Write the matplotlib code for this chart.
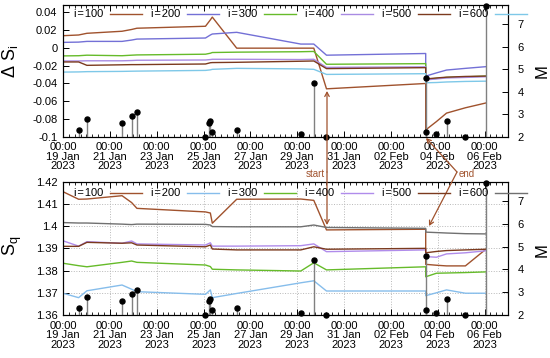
import numpy as np
import pandas as pd
import matplotlib
matplotlib.use("Agg")
import matplotlib.pyplot as plt
import matplotlib.dates as mdates
from matplotlib.lines import Line2D
from matplotlib.patches import FancyArrowPatch
from matplotlib.ticker import FixedLocator, FuncFormatter

plt.rcParams.update({
    "font.family": ["Liberation Sans", "DejaVu Sans"],
    "font.size": 8,
    "axes.unicode_minus": False,
    "axes.linewidth": 0.8,
    "mathtext.default": "regular",
})

# ---- data ----
node_times = pd.to_datetime([
    "2023-01-19 00:00", "2023-01-19 16:00", "2023-01-20 00:30", "2023-01-21 12:30",
    "2023-01-21 22:20", "2023-01-22 03:45", "2023-01-25 02:00", "2023-01-25 07:00",
    "2023-01-25 09:00", "2023-01-26 10:00", "2023-01-29 03:40", "2023-01-29 17:00",
    "2023-01-30 06:00", "2023-02-03 11:40", "2023-02-03 11:40", "2023-02-03 22:40",
    "2023-02-04 09:00", "2023-02-05 04:20", "2023-02-06 01:20",
])

labels = ["i=100", "i=200", "i=300", "i=400", "i=500", "i=600"]

dS_100 = [0.0135, 0.0143, 0.0162, 0.0185, 0.0205, 0.0219, 0.0241, 0.0313, 0.0344, -0.0005,
          -0.0005, -0.0005, -0.0462, -0.0402, -0.0924, -0.0830, -0.0735, -0.0675, -0.0621]
dS_200 = [0.0060, 0.0063, 0.0071, 0.0071, 0.0086, 0.0097, 0.0109, 0.0143, 0.0154, 0.0173,
          0.0041, 0.0041, -0.0084, -0.0065, -0.0319, -0.0283, -0.0251, -0.0232, -0.0213]
dS_300 = [-0.0092, -0.0090, -0.0084, -0.0090, -0.0084, -0.0081, -0.0073, -0.0062, -0.0054, -0.0050,
          -0.0045, -0.0042, -0.0186, -0.0179, -0.0357, -0.0345, -0.0334, -0.0328, -0.0319]
dS_400 = [-0.0149, -0.0149, -0.0147, -0.0147, -0.0144, -0.0141, -0.0138, -0.0133, -0.0130, -0.0130,
          -0.0133, -0.0130, -0.0221, -0.0215, -0.0362, -0.0351, -0.0340, -0.0334, -0.0326]
dS_500 = [-0.0160, -0.0160, -0.0198, -0.0192, -0.0190, -0.0190, -0.0183, -0.0169, -0.0167, -0.0164,
          -0.0152, -0.0149, -0.0235, -0.0224, -0.0351, -0.0340, -0.0331, -0.0323, -0.0319]
dS_600 = [-0.0274, -0.0272, -0.0269, -0.0266, -0.0264, -0.0263, -0.0255, -0.0249, -0.0243, -0.0232,
          -0.0238, -0.0243, -0.0300, -0.0292, -0.0394, -0.0391, -0.0385, -0.0379, -0.0376]

Sq_100 = [1.4155, 1.4121, 1.4122, 1.4137, 1.4106, 1.4080, 1.4064, 1.4059, 1.4013, 1.4121,
          1.4122, 1.4116, 1.3983, 1.3986, 1.3828, 1.3824, 1.3821, 1.3821, 1.3896]
Sq_200 = [1.3698, 1.3678, 1.3709, 1.3735, 1.3716, 1.3705, 1.3693, 1.3713, 1.3678, 1.3697,
          1.3745, 1.3754, 1.3708, 1.3708, 1.3687, 1.3700, 1.3713, 1.3698, 1.3698]
Sq_300 = [1.3833, 1.3822, 1.3817, 1.3837, 1.3843, 1.3837, 1.3825, 1.3818, 1.3806, 1.3803,
          1.3798, 1.3835, 1.3803, 1.3817, 1.3772, 1.3788, 1.3789, 1.3791, 1.3794]
Sq_400 = [1.3934, 1.3910, 1.3930, 1.3923, 1.3933, 1.3920, 1.3915, 1.3925, 1.3910, 1.3910,
          1.3912, 1.3920, 1.3885, 1.3893, 1.3863, 1.3860, 1.3875, 1.3880, 1.3889]
Sq_500 = [1.3909, 1.3909, 1.3927, 1.3923, 1.3925, 1.3915, 1.3907, 1.3915, 1.3897, 1.3893,
          1.3893, 1.3907, 1.3896, 1.3900, 1.3880, 1.3886, 1.3890, 1.3893, 1.3896]
Sq_600 = [1.4016, 1.4014, 1.4014, 1.4009, 1.4007, 1.4009, 1.4008, 1.4005, 1.3998, 1.3997,
          1.3997, 1.4005, 1.3994, 1.3990, 1.3973, 1.3971, 1.3969, 1.3966, 1.3965]

eq_times = pd.to_datetime([
    "2023-01-19 16:00", "2023-01-20 00:30", "2023-01-21 12:30", "2023-01-21 22:20",
    "2023-01-22 03:45", "2023-01-25 02:00", "2023-01-25 06:00", "2023-01-25 07:00",
    "2023-01-25 09:00", "2023-01-26 10:00", "2023-01-29 03:40", "2023-01-29 17:00",
    "2023-01-30 06:00", "2023-02-03 11:40", "2023-02-03 11:50", "2023-02-03 22:40",
    "2023-02-04 09:00", "2023-02-05 04:20", "2023-02-06 01:20",
])
eq_mag = [2.3, 2.8, 2.6, 2.9, 3.1, 2.0, 2.6, 2.7, 2.2, 2.3,
          2.1, 4.4, 2.0, 4.6, 2.2, 2.1, 2.7, 2.0, 7.8]

xtick_dates = pd.to_datetime([
    "2023-01-19", "2023-01-21", "2023-01-23", "2023-01-25", "2023-01-27",
    "2023-01-29", "2023-01-31", "2023-02-02", "2023-02-04", "2023-02-06",
])
x_range = pd.to_datetime(["2023-01-19", "2023-02-07"])

top_colors = ["#A0522D", "#7370D6", "#66BB2A", "#A98BE3", "#7B3A1E", "#7EC8E8"]
bot_colors = ["#A0522D", "#86BDEB", "#66BB2A", "#B08CEB", "#7B3A1E", "#707070"]
ARROW_C = "#A0522D"

W, H = 550, 358


def fpx(x, y):
    """pixel position -> figure fraction"""
    return x / W, 1 - y / H


def style_axes(ax, ax2):
    ax.set_xlim(x_range[0], x_range[1])
    ax.xaxis.set_major_locator(FixedLocator(mdates.date2num(xtick_dates)))
    ax.xaxis.set_major_formatter(mdates.DateFormatter("%H:%M\n%d %b\n%Y"))
    ax.xaxis.set_minor_locator(mdates.HourLocator(byhour=[0, 6, 12, 18]))
    ax.tick_params(which="both", direction="in", top=True)
    ax.tick_params(which="major", length=4, width=0.7)
    ax.tick_params(which="minor", length=2, width=0.6)
    ax.tick_params(axis="x", pad=4)
    ax.tick_params(axis="y", pad=4)
    ax2.set_ylim(2, 7.85)
    ax2.set_yticks([2, 3, 4, 5, 6, 7])
    ax2.tick_params(direction="in", length=4, width=0.7, pad=7)


def draw_stems(ax2):
    ax2.vlines(eq_times, 2, eq_mag, color="#808080", linewidth=1.0)
    ax2.plot(eq_times, eq_mag, "o", color="black", markersize=3.6, clip_on=False)


def draw_key(fig, y, colors):
    for k, (lab, c) in enumerate(zip(labels, colors)):
        xe = 103 + 77 * k
        fig.text(*fpx(xe, y), lab.replace("=", "\u200a=\u200a"), ha="right", va="center", fontsize=8)
        x0, y0 = fpx(xe + 7, y)
        x1, _ = fpx(xe + 39, y)
        fig.add_artist(Line2D([x0, x1], [y0, y0], color=c, linewidth=1.0,
                              transform=fig.transFigure))


fig = plt.figure(figsize=(5.5, 3.58), dpi=100)
ax_top = fig.add_axes([63 / W, 1 - 136.7 / H, 445 / W, 131.7 / H])
ax_bot = fig.add_axes([63 / W, 1 - 315 / H, 445 / W, 133.3 / H])

# ---- upper panel: Delta S_i ----
for vals, c in zip([dS_100, dS_200, dS_300, dS_400, dS_500, dS_600], top_colors):
    ax_top.plot(node_times, vals, color=c, linewidth=1.0)
ax_top.set_ylim(-0.1, 0.048)
ax_top.set_yticks([-0.1, -0.08, -0.06, -0.04, -0.02, 0, 0.02, 0.04])
ax_top.yaxis.set_major_formatter(FuncFormatter(lambda v, p: f"{v:g}" if abs(v) > 1e-9 else "0"))
ax_top.set_ylabel("Δ S$_{i}$", fontsize=13)
ax_top.yaxis.set_label_coords(-0.097, 0.57)
ax2_top = ax_top.twinx()
style_axes(ax_top, ax2_top)
draw_stems(ax2_top)
ax2_top.set_ylabel("M", fontsize=12, rotation=90)
ax2_top.yaxis.set_label_coords(1.059, 0.5)

# ---- lower panel: S_q ----
for vals, c in zip([Sq_100, Sq_200, Sq_300, Sq_400, Sq_500, Sq_600], bot_colors):
    ax_bot.plot(node_times, vals, color=c, linewidth=1.0)
ax_bot.set_ylim(1.36, 1.42)
ax_bot.set_yticks([1.36, 1.37, 1.38, 1.39, 1.40, 1.41, 1.42])
ax_bot.yaxis.set_major_formatter(FuncFormatter(lambda v, p: f"{v:g}"))
ax_bot.grid(True, which="major", color="#b8b8b8", linestyle=":", linewidth=0.7)
ax_bot.set_ylabel("S$_{q}$", fontsize=13)
ax_bot.yaxis.set_label_coords(-0.088, 0.52)
ax2_bot = ax_bot.twinx()
style_axes(ax_bot, ax2_bot)
draw_stems(ax2_bot)
ax2_bot.set_ylabel("M", fontsize=12, rotation=90)
ax2_bot.yaxis.set_label_coords(1.059, 0.49)

draw_key(fig, 14, top_colors)
draw_key(fig, 192.5, bot_colors)

# ---- start / end markers ----
fig.text(*fpx(325, 174), "start", ha="right", va="center", fontsize=7, color=ARROW_C)
fig.text(*fpx(459, 174), "end", ha="left", va="center", fontsize=7, color=ARROW_C)
arrows = [((327, 172), (327, 91)), ((327, 172), (327, 225)),
          ((457, 172), (426, 138)), ((457, 172), (429, 226))]
for a, b in arrows:
    fig.add_artist(FancyArrowPatch(fpx(*a), fpx(*b), transform=fig.transFigure,
                                   arrowstyle="->,head_length=3,head_width=1.6",
                                   color=ARROW_C, linewidth=0.9, shrinkA=0, shrinkB=0))

fig.canvas.draw()
for ax in (ax_top, ax_bot):
    for t in ax.get_xticklabels():
        t.set_linespacing(0.95)

fig.savefig("out.png", dpi=100)
